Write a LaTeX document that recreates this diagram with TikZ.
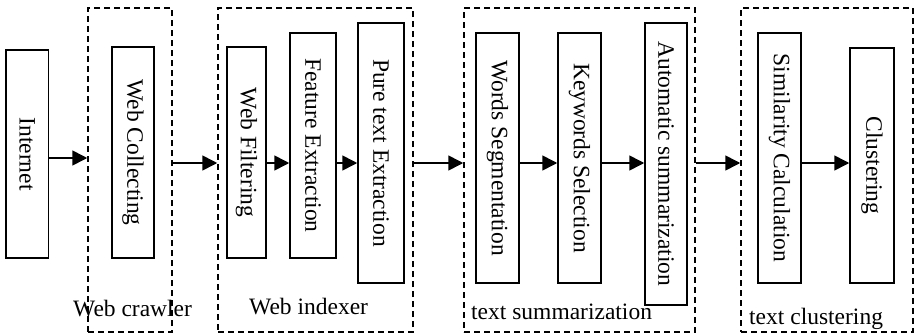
\documentclass[tikz,border=0pt]{standalone}
\usepackage{fontspec}
\setmainfont{Liberation Serif}
\usetikzlibrary{arrows.meta}
\tikzset{
  blk/.style={draw, line width=1.5pt, inner sep=0pt, font=\fontsize{23.5}{27}\selectfont},
  grp/.style={draw, dash pattern=on 6pt off 4pt, line width=1.5pt, inner sep=0pt},
  lbl/.style={anchor=west, inner sep=0pt, font=\fontsize{23.5}{27}\selectfont},
  arr/.style={line width=1.6pt, -{Triangle[length=15pt,width=15pt]}}
}
\newcommand{\vt}[1]{\rotatebox{-90}{#1}}
\begin{document}
\begin{tikzpicture}[x=1pt,y=-1pt]
\useasboundingbox (0,0) rectangle (914,335);
% groups
\node[grp, minimum width=84pt, minimum height=324pt] (crawler) at (130,170) {};
\node[grp, minimum width=195pt, minimum height=324pt] (indexer) at (315.5,170) {};
\node[grp, minimum width=231pt, minimum height=324pt] (summ) at (579.5,170) {};
\node[grp, minimum width=172pt, minimum height=324pt] (clust) at (827,170) {};
% blocks
\node[blk, minimum width=42.7pt, minimum height=208pt] (internet) at (27.3,154) {\vt{Internet}};
\node[blk, minimum width=42pt, minimum height=211pt] (collect) at (133,152.5) {\vt{Web Collecting}};
\node[blk, minimum width=39pt, minimum height=211pt] (filter) at (246.5,152.5) {\vt{Web Filtering}};
\node[blk, minimum width=46pt, minimum height=225pt] (feature) at (313,145.5) {\vt{Feature Extraction}};
\node[blk, minimum width=46pt, minimum height=260pt] (pure) at (381,153) {\vt{Pure text Extraction}};
\node[blk, minimum width=43pt, minimum height=250pt] (words) at (497.5,158) {\vt{Words Segmentation}};
\node[blk, minimum width=43pt, minimum height=250pt] (keys) at (579.5,158) {\vt{Keywords Selection}};
\node[blk, minimum width=42pt, minimum height=282pt] (auto) at (666,164) {\vt{Automatic summarization}};
\node[blk, minimum width=43pt, minimum height=250pt] (simil) at (779.5,158) {\vt{Similarity Calculation}};
\node[blk, minimum width=44pt, minimum height=235pt] (cluster) at (872,165.5) {\vt{Clustering}};
% labels
\node[lbl] (lcrawler) at (73,309) {Web crawler};
\node[lbl] (lindexer) at (249,307) {Web indexer};
\node[lbl] (lsumm) at (471,312) {text summarization};
\node[lbl] (lclust) at (749,319) {text clustering};
% arrows
\coordinate (row) at (0,163);
\coordinate (row2) at (0,158);
\draw[arr] (internet.east |- row2) -- (crawler.west |- row2);
\draw[arr] (crawler.east |- row) -- (indexer.west |- row);
\draw[arr] (filter.east |- row) -- (feature.west |- row);
\draw[arr] (feature.east |- row) -- (pure.west |- row);
\draw[arr] (indexer.east |- row) -- (summ.west |- row);
\draw[arr] (words.east |- row) -- (keys.west |- row);
\draw[arr] (keys.east |- row) -- (auto.west |- row);
\draw[arr] (summ.east |- row) -- (clust.west |- row);
\draw[arr] (simil.east |- row) -- (cluster.west |- row);
\end{tikzpicture}
\end{document}
